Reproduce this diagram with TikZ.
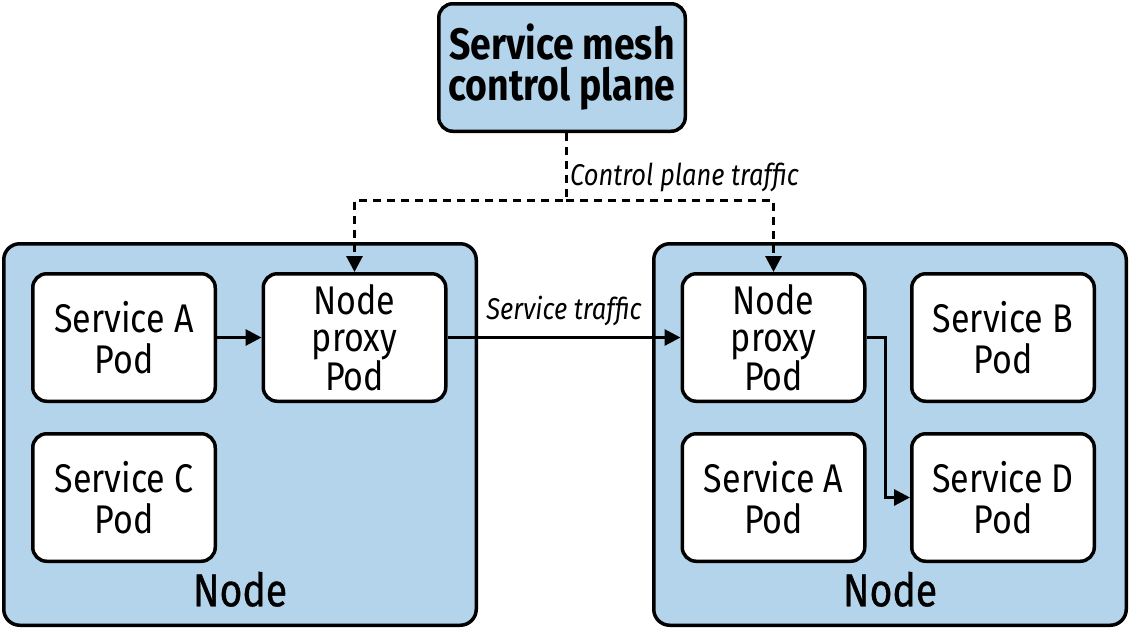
\documentclass[tikz,border=0pt]{standalone}
\usepackage{fontspec}
\setmainfont{Fira Sans}[FakeStretch=0.85]
\newfontfamily\medfont{Fira Sans}[FakeStretch=0.85,FakeBold=0.8]
\usetikzlibrary{arrows.meta,positioning}
\definecolor{hostblue}{HTML}{B3D4EA}
\tikzset{
  hostbox/.style={draw,line width=3.5pt,rounded corners=16pt,fill=hostblue,
    inner sep=0pt,minimum width=472.5pt,minimum height=381.5pt},
  podbox/.style={draw,line width=3.5pt,rounded corners=14pt,fill=white,
    inner sep=0pt,minimum width=182.5pt,minimum height=127.5pt,align=center,
    font=\fontsize{40}{41}\selectfont},
  proxybox/.style={podbox,font=\fontsize{40}{37}\selectfont},
  hostlabel/.style={font=\fontsize{46}{46}\selectfont\medfont,inner sep=0pt},
  flowlabel/.style={font=\fontsize{30}{30}\selectfont\itshape,inner sep=0pt},
  flow/.style={line width=3pt,-{Triangle[length=16pt,width=16pt]}},
  ctrlflow/.style={flow,dash pattern=on 8pt off 6pt},
}
\begin{document}
\begin{tikzpicture}[x=1pt,y=-1pt]
  \useasboundingbox (0,0) rectangle (1131,630);
  % control plane
  \node[podbox,fill=hostblue,minimum width=246.5pt,
    font=\fontsize{44}{41}\selectfont\bfseries] (ctrl) at (562,67.5)
    {Service mesh\\control plane};
  % hosts
  \node[hostbox] (lefthost) at (240,434.5) {};
  \node[hostbox] (righthost) at (890,434.5) {};
  \node[hostlabel,above=20pt of lefthost.south] {Node};
  \node[hostlabel,above=20pt of righthost.south] {Node};
  % pods
  \node[podbox] (leftsvca) at (124,337.5) {Service A\\Pod};
  \node[proxybox] (leftproxy) at (354.5,337.5) {Node\\proxy\\Pod};
  \node[podbox] (leftsvcc) at (124,497.5) {Service C\\Pod};
  \node[proxybox] (rightproxy) at (773.5,337.5) {Node\\proxy\\Pod};
  \node[podbox] (rightsvcb) at (1003,337.5) {Service B\\Pod};
  \node[podbox] (rightsvca) at (773.5,497.5) {Service A\\Pod};
  \node[podbox] (rightsvcd) at (1003,497.5) {Service D\\Pod};
  % traffic
  \coordinate (split) at (566,200);
  \draw[ctrlflow] (ctrl.south -| split) -- (split) -| (leftproxy.north);
  \draw[ctrlflow] (split) -| (rightproxy.north);
  \node[flowlabel,anchor=west] at (570,177) {Control plane traffic};
  \draw[flow] (leftsvca) -- (leftproxy);
  \draw[flow] (leftproxy) -- node[flowlabel,above=10pt] {Service traffic} (rightproxy);
  \draw[flow] (rightproxy.east) -- (885,337.5) |- (rightsvcd.west);
\end{tikzpicture}
\end{document}
